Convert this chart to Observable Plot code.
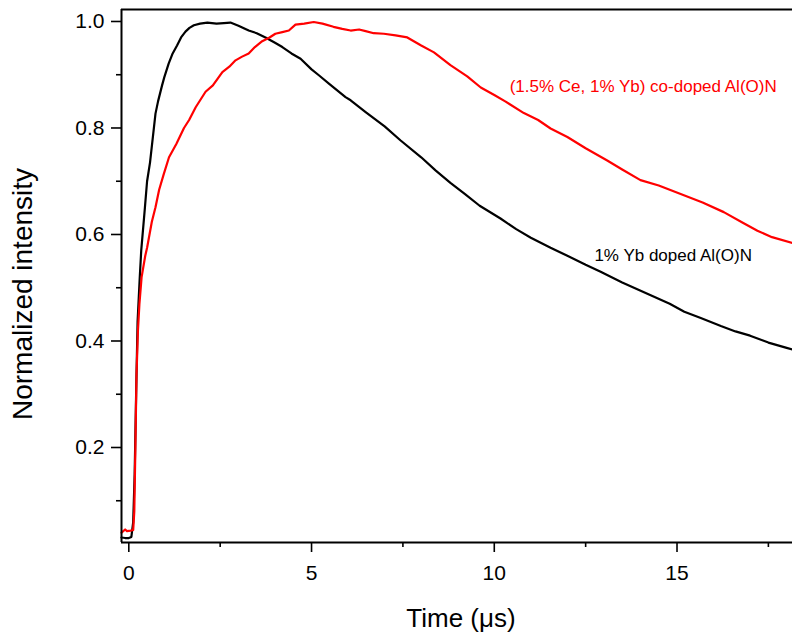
<!DOCTYPE html>
<html>
<head>
<meta charset="utf-8">
<script src="https://cdn.jsdelivr.net/npm/d3@7"></script>
<script src="https://cdn.jsdelivr.net/npm/@observablehq/plot@0.6"></script>
<style>
  html, body { margin: 0; padding: 0; background: #fff; }
  #chart { width: 792px; height: 635px; }
</style>
</head>
<body>
<div id="chart"></div>
<script>
// ---- data ----
const seriesNames = ["1% Yb doped Al(O)N", "(1.5% Ce, 1% Yb) co-doped Al(O)N"];
const xTicksMajor = [0, 5, 10, 15];
const xTicksMinor = [2.5, 7.5, 12.5, 17.5];
const yTicksMajor = [0.2, 0.4, 0.6, 0.8, 1.0];
const yTicksMinor = [0.1, 0.3, 0.5, 0.7, 0.9];

const ybTime = [-0.20,-0.10,0.00,0.07,0.12,0.16,0.20,0.24,0.30,0.34,0.44,0.50,0.58,0.73,0.80,0.91,0.97,1.09,1.20,1.32,1.43,1.55,1.66,1.78,1.95,2.15,2.40,2.60,2.78,3.00,3.28,3.50,3.74,4.00,4.20,4.45,4.70,5.00,5.20,5.50,5.93,6.07,6.48,7.00,7.43,8.00,8.40,8.80,9.20,9.60,10.17,10.60,11.00,11.54,12.00,12.50,12.91,13.50,14.28,14.80,15.20,15.65,16.20,16.60,17.00,17.50,18.00,18.16];
const ybIntensity = [0.031,0.030,0.030,0.032,0.060,0.150,0.300,0.436,0.520,0.570,0.650,0.700,0.735,0.827,0.850,0.880,0.895,0.921,0.940,0.955,0.970,0.981,0.988,0.993,0.996,0.998,0.996,0.997,0.998,0.992,0.983,0.978,0.970,0.960,0.952,0.940,0.930,0.910,0.899,0.882,0.858,0.852,0.830,0.803,0.777,0.745,0.720,0.697,0.676,0.654,0.630,0.610,0.594,0.575,0.560,0.543,0.530,0.510,0.486,0.470,0.455,0.443,0.428,0.418,0.410,0.397,0.387,0.384];

const ceybTime = [-0.20,-0.10,-0.05,0.05,0.12,0.15,0.18,0.21,0.25,0.29,0.35,0.45,0.50,0.63,0.73,0.83,0.95,1.10,1.30,1.51,1.65,1.83,2.10,2.30,2.56,2.75,2.92,3.10,3.28,3.45,3.65,3.85,4.01,4.20,4.38,4.56,4.80,5.06,5.30,5.60,5.84,6.07,6.30,6.48,6.70,6.98,7.30,7.62,8.00,8.35,8.80,9.26,9.63,10.00,10.30,10.81,11.20,11.54,12.00,12.50,13.09,13.50,14.00,14.50,15.10,15.70,16.28,16.80,17.20,17.60,18.16];
const ceybIntensity = [0.040,0.046,0.043,0.044,0.045,0.080,0.200,0.335,0.420,0.469,0.520,0.560,0.575,0.624,0.651,0.684,0.712,0.745,0.770,0.800,0.815,0.839,0.868,0.880,0.905,0.915,0.927,0.934,0.940,0.952,0.963,0.970,0.977,0.980,0.983,0.994,0.996,0.999,0.996,0.990,0.986,0.983,0.985,0.982,0.978,0.977,0.974,0.970,0.955,0.942,0.918,0.897,0.876,0.862,0.850,0.828,0.815,0.799,0.783,0.762,0.739,0.722,0.702,0.692,0.676,0.660,0.642,0.622,0.607,0.595,0.584];

// ---- build table ----
const rows = [
  ...ybTime.map((t, i) => ({t, v: ybIntensity[i], s: seriesNames[0]})),
  ...ceybTime.map((t, i) => ({t, v: ceybIntensity[i], s: seriesNames[1]}))
];

const xDomain = [-0.2, 18.16];
const yDomain = [0.0216, 1.0225];
const font = "'Liberation Sans', Arial, Helvetica, sans-serif";

const chart = Plot.plot({
  width: 792,
  height: 635,
  marginLeft: 121,
  marginRight: 0,
  marginTop: 9,
  marginBottom: 93,
  style: {fontFamily: font, background: "#fff", color: "#000"},
  x: {domain: xDomain},
  y: {domain: yDomain},
  color: {domain: seriesNames, range: ["#000000", "#ff0000"]},
  marks: [
    Plot.line(rows, {x: "t", y: "v", z: "s", stroke: "s", strokeWidth: 2.2, curve: "linear"}),
    Plot.ruleX([xDomain[0]], {stroke: "#000", strokeWidth: 2}),
    Plot.ruleY([yDomain[0], yDomain[1]], {stroke: "#000", strokeWidth: 2}),
    Plot.axisY({ticks: yTicksMajor, tickSize: 10, tickPadding: 7, tickFormat: ".1f", fontSize: 21, strokeWidth: 1.6, label: null}),
    Plot.axisY({ticks: yTicksMinor, tickSize: 5, tickFormat: () => "", strokeWidth: 1.6, label: null}),
    Plot.axisX({ticks: xTicksMajor, tickSize: 10, tickPadding: 13, tickFormat: d => String(d), fontSize: 21, strokeWidth: 1.6, label: null}),
    Plot.axisX({ticks: xTicksMinor, tickSize: 5, tickFormat: () => "", strokeWidth: 1.6, label: null}),
    Plot.text([seriesNames[1]], {x: 10.42, y: 0.877, text: d => d, textAnchor: "start", fill: "#ff0000", fontSize: 17}),
    Plot.text([seriesNames[0]], {x: 12.74, y: 0.561, text: d => d, textAnchor: "start", fill: "#000", fontSize: 17}),
    Plot.text(["Normalized intensity"], {frameAnchor: "left", text: d => d, rotate: -90, textAnchor: "middle", lineAnchor: "middle", dx: -98, dy: 18, fontSize: 28, fill: "#000"}),
    Plot.text(["Time (\u03bcs)"], {frameAnchor: "bottom", text: d => d, textAnchor: "middle", lineAnchor: "middle", dx: 4, dy: 76, fontSize: 26, fill: "#000"})
  ]
});
document.getElementById("chart").appendChild(chart);
</script>
</body>
</html>
